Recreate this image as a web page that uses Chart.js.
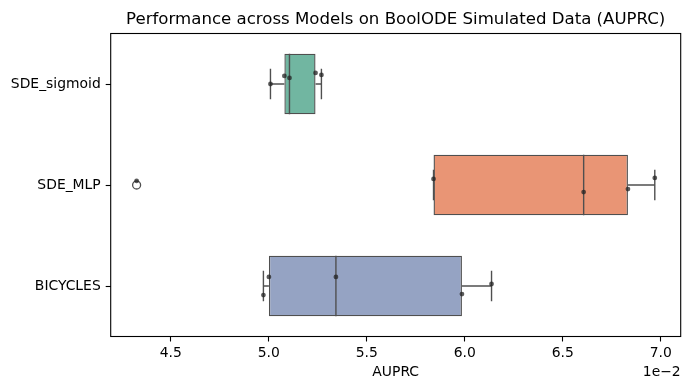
<!DOCTYPE html>
<html>
<head>
<meta charset="utf-8">
<script src="https://cdn.jsdelivr.net/npm/chart.js@4.4.1/dist/chart.umd.min.js"></script>
<style>
  html, body { margin: 0; padding: 0; background: #ffffff; }
  #wrap { width: 690px; height: 390px; }
</style>
</head>
<body>
<div id="wrap"><canvas id="c" width="690" height="390"></canvas></div>
<script>
// ---- data ----
const categories = ['SDE_sigmoid', 'SDE_MLP', 'BICYCLES'];
const sigmoidValues  = [0.05009, 0.05080, 0.05106, 0.05239, 0.05269];
const mlpValues      = [0.04326, 0.05841, 0.06607, 0.06833, 0.06970];
const bicyclesValues = [0.04973, 0.05001, 0.05343, 0.05986, 0.06137];
// vertical strip-plot jitter of each dot (in category units)
const sigmoidJitter  = [0.00, -0.08, -0.06, -0.11, -0.09];
const mlpJitter      = [-0.04, -0.06, 0.07, 0.04, -0.07];
const bicyclesJitter = [0.09, -0.09, -0.09, 0.08, -0.02];
const xTickValues = [0.045, 0.050, 0.055, 0.060, 0.065, 0.070];
const titleText = 'Performance across Models on BoolODE Simulated Data (AUPRC)';
const xLabelText = 'AUPRC';
const offsetText = '1e\u22122';

const groups = [sigmoidValues, mlpValues, bicyclesValues];
const jitters = [sigmoidJitter, mlpJitter, bicyclesJitter];
const boxColors = ['#71b6a1', '#e99575', '#95a3c3'];
const lineColor = '#4f4f4f';
const FONT = "'DejaVu Sans', sans-serif";

function quantile(arr, q) {
  const s = [...arr].sort((a, b) => a - b);
  const pos = (s.length - 1) * q;
  const lo = Math.floor(pos), hi = Math.ceil(pos);
  return s[lo] + (s[hi] - s[lo]) * (pos - lo);
}
const stats = groups.map(vals => {
  const q1 = quantile(vals, 0.25), med = quantile(vals, 0.5), q3 = quantile(vals, 0.75);
  const iqr = q3 - q1;
  const inside = vals.filter(v => v >= q1 - 1.5 * iqr && v <= q3 + 1.5 * iqr);
  return {
    q1, med, q3,
    wlo: Math.min(...inside), whi: Math.max(...inside),
    out: vals.filter(v => v < q1 - 1.5 * iqr || v > q3 + 1.5 * iqr)
  };
});

const allVals = groups.flat();
const dMin = Math.min(...allVals), dMax = Math.max(...allVals);
const xMin = dMin - 0.05 * (dMax - dMin);
const xMax = dMax + 0.05 * (dMax - dMin);

const HALF = 0.3;       // half box height in category units
const CAP = 0.15;       // half cap length

// segments: whiskers, caps, medians
const segments = [];
stats.forEach((s, i) => {
  segments.push([{x: s.wlo, y: i}, {x: s.q1, y: i}]);
  segments.push([{x: s.q3, y: i}, {x: s.whi, y: i}]);
  segments.push([{x: s.wlo, y: i - CAP}, {x: s.wlo, y: i + CAP}]);
  segments.push([{x: s.whi, y: i - CAP}, {x: s.whi, y: i + CAP}]);
  segments.push([{x: s.med, y: i - HALF}, {x: s.med, y: i + HALF}]);
});

const datasets = [];
// strip points (drawn on top)
datasets.push({
  type: 'scatter',
  data: groups.flatMap((vals, i) => vals.map((v, k) => ({x: v, y: i + jitters[i][k]}))),
  xAxisID: 'x', yAxisID: 'y2',
  pointRadius: 2.4,
  pointBackgroundColor: 'rgba(35,35,35,0.75)',
  pointBorderColor: 'rgba(35,35,35,0.75)',
  pointBorderWidth: 0,
  order: 0
});
// outliers
datasets.push({
  type: 'scatter',
  data: stats.flatMap((s, i) => s.out.map(v => ({x: v, y: i}))),
  xAxisID: 'x', yAxisID: 'y2',
  pointRadius: 4,
  pointBackgroundColor: 'rgba(0,0,0,0)',
  pointBorderColor: lineColor,
  pointBorderWidth: 1.3,
  order: 1
});
segments.forEach(seg => datasets.push({
  type: 'scatter',
  data: seg,
  showLine: true,
  xAxisID: 'x', yAxisID: 'y2',
  borderColor: lineColor,
  borderWidth: 1.4,
  pointRadius: 0,
  order: 2
}));
// boxes
datasets.push({
  type: 'bar',
  data: stats.map(s => [s.q1, s.q3]),
  xAxisID: 'x', yAxisID: 'y',
  backgroundColor: boxColors,
  borderColor: lineColor,
  borderWidth: 1.4,
  borderSkipped: false,
  grouped: false,
  categoryPercentage: 1.0,
  barPercentage: 2 * HALF,
  order: 3
});

const frameAndText = {
  id: 'frameAndText',
  afterDraw(chart) {
    const {ctx, chartArea: a} = chart;
    ctx.save();
    ctx.strokeStyle = '#000';
    ctx.lineWidth = 1.1;
    ctx.strokeRect(a.left, a.top, a.right - a.left, a.bottom - a.top);
    ctx.fillStyle = '#000';
    ctx.font = `16.6px ${FONT}`;
    ctx.textAlign = 'center';
    ctx.textBaseline = 'alphabetic';
    ctx.fillText(titleText, (a.left + a.right) / 2, a.top - 9.5);
    ctx.font = `13.9px ${FONT}`;
    ctx.textBaseline = 'middle';
    ctx.fillText(xLabelText, (a.left + a.right) / 2, 372);
    ctx.textAlign = 'right';
    ctx.fillText(offsetText, a.right, 372);
    ctx.restore();
  }
};

new Chart(document.getElementById('c'), {
  type: 'bar',
  data: { labels: categories, datasets },
  options: {
    indexAxis: 'y',
    responsive: false,
    animation: false,
    devicePixelRatio: 1,
    layout: { padding: { top: 33.5, right: 9.3, left: 0, bottom: 0 } },
    plugins: { legend: { display: false }, tooltip: { enabled: false }, title: { display: false } },
    scales: {
      x: {
        type: 'linear',
        position: 'bottom',
        min: xMin, max: xMax,
        offset: false,
        afterBuildTicks(scale) { scale.ticks = xTickValues.map(v => ({value: v})); },
        afterFit(scale) { scale.height = 53.5; },
        ticks: {
          callback: v => (v * 100).toFixed(1),
          color: '#000', font: { family: FONT, size: 13.9 }, padding: 4,
          maxRotation: 0, autoSkip: false
        },
        grid: { drawOnChartArea: false, drawTicks: true, tickLength: 5, color: '#000', tickWidth: 1.1 },
        border: { display: false }
      },
      y: {
        type: 'category',
        position: 'left',
        afterFit(scale) { scale.width = 110.7; },
        ticks: { color: '#000', font: { family: FONT, size: 13.9 }, padding: 5 },
        grid: { drawOnChartArea: false, drawTicks: true, tickLength: 5, color: '#000', tickWidth: 1.1, offset: false },
        border: { display: false }
      },
      y2: {
        type: 'linear',
        display: false,
        reverse: true,
        offset: false,
        grid: { offset: false },
        min: -0.5, max: categories.length - 0.5
      }
    }
  },
  plugins: [frameAndText]
});
</script>
</body>
</html>
